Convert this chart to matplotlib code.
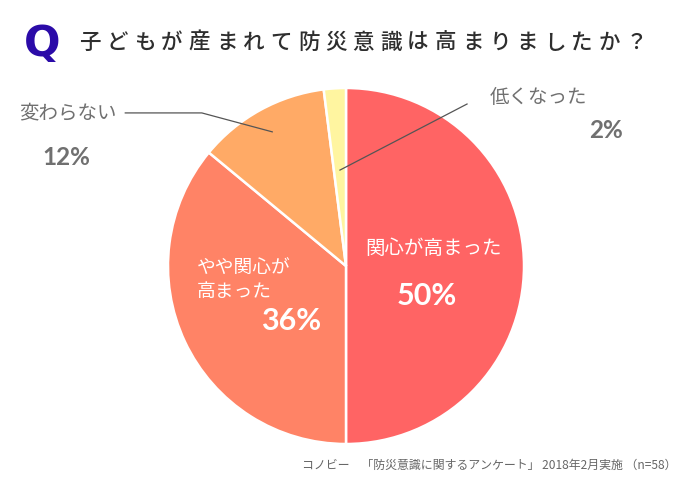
import numpy as np
import matplotlib
matplotlib.use('Agg')
from matplotlib import pyplot as plt

plt.rcParams['font.family'] = ['Noto Sans CJK JP', 'DejaVu Sans']

# data
categories = ['関心が高まった', 'やや関心が\n高まった', '変わらない', '低くなった']
shares = [50, 36, 12, 2]
pct_labels = ['50%', '36%', '12%', '2%']
colors = ['#FF6464', '#FF8366', '#FFAA66', '#FFF5A0']

title = '子どもが産まれて防災意識は高まりましたか？'
footer = 'コノビー　「防災意識に関するアンケート」 2018年2月実施 （n=58）'

fig = plt.figure(figsize=(7, 4.8), dpi=100)
# pie: center ~ (346, 266) px, radius ~178 px
ax = fig.add_axes([168 / 700, 36 / 480, 356 / 700, 356 / 480])
wedges, _ = ax.pie(shares, colors=colors, startangle=90, counterclock=False,
                   wedgeprops=dict(edgecolor='white', linewidth=1.8))
ax.set_xlim(-1, 1)
ax.set_ylim(-1, 1)
ax.set_aspect('equal')
ax.axis('off')

grey = '#707070'
line_col = '#555555'

# labels inside
ax.text(0.494, 0.096, categories[0], color='white', fontsize=14,
        ha='center', va='center')
ax.text(0.455, -0.169, pct_labels[0], color='white', fontsize=22,
        fontweight='bold', family=['Lato', 'DejaVu Sans'],
        ha='center', va='center')
ax.text(-0.84, -0.076, categories[1], color='white', fontsize=13.5,
        ha='left', va='center', linespacing=1.15)
ax.text(-0.309, -0.309, pct_labels[1], color='white', fontsize=22,
        fontweight='bold', family=['Lato', 'DejaVu Sans'],
        ha='center', va='center')

# outside labels
ax.text(-1.287, 0.86, categories[2], color=grey, fontsize=14,
        ha='right', va='center', clip_on=False)
ax.text(-1.573, 0.612, pct_labels[2], color=grey, fontsize=17.5,
        fontweight='bold', family=['Lato', 'DejaVu Sans'],
        ha='center', va='center', clip_on=False)
ax.text(0.809, 0.944, categories[3], color=grey, fontsize=14,
        ha='left', va='center', clip_on=False)
ax.text(1.46, 0.764, pct_labels[3], color=grey, fontsize=17.5,
        fontweight='bold', family=['Lato', 'DejaVu Sans'],
        ha='center', va='center', clip_on=False)

# leader lines, ending inside the wedges
w = wedges[2]
mid = np.deg2rad((w.theta1 + w.theta2) / 2)
ex, ey = 0.86 * np.cos(mid), 0.86 * np.sin(mid)
ax.plot([-1.24, -0.81, ex], [0.86, 0.86, ey], color=line_col, lw=0.9,
        clip_on=False)
w = wedges[3]
mid = np.deg2rad((w.theta1 + w.theta2) / 2)
ex, ey = 0.54 * np.cos(mid), 0.54 * np.sin(mid)
ax.plot([0.68, ex], [0.91, ey], color=line_col, lw=0.9, clip_on=False)

# title
fig.text(42 / 700, 1 - 44 / 480, 'Q', color='#2B0BA8', fontsize=31,
         fontweight='heavy', family=['DejaVu Sans'], ha='center', va='center')
for i, ch in enumerate(title):
    fig.text((79 + i * 27.35) / 700, 1 - 43 / 480, ch, color='#2E2E2E',
             fontsize=15.5, fontweight='medium', ha='left', va='center')

fig.text(677 / 700, 1 - 465 / 480, footer, color='#666666', fontsize=8.6,
         ha='right', va='center')

fig.savefig('out.png', dpi=100)
